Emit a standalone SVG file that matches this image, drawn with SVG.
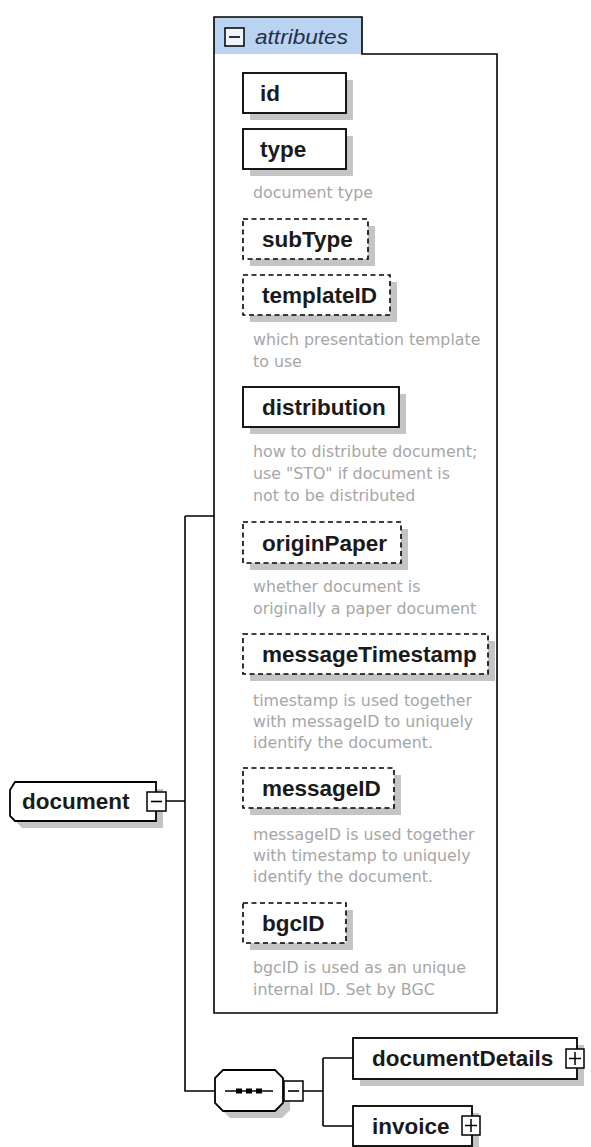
<svg xmlns="http://www.w3.org/2000/svg" width="591" height="1147" viewBox="0 0 591 1147">
<style>
.lbl{font-family:"Liberation Sans",Arial,sans-serif;font-weight:bold;font-size:22.5px;fill:#1a1a1a}
.desc{font-family:"DejaVu Sans","Liberation Sans",sans-serif;font-size:15.8px;fill:#a6a6a6}
.box{fill:#fff;stroke:#000;stroke-width:1.8}
.dash{fill:#fff;stroke:#000;stroke-width:1.6;stroke-dasharray:5 3.5}
.shd{fill:#c4c4c4}
.ln{fill:none;stroke:#000;stroke-width:1.6}
.pm{fill:#fff;stroke:#000;stroke-width:1.5}
</style>
<rect width="591" height="1147" fill="#fff"/>
<g id="connectors">
<path class="ln" d="M166,801 H185 M185,516 H214 M185,516 V1091 H215 M303,1091 H323 M323,1058 V1126 M323,1058 H353 M323,1126 H353"/>
</g>
<g id="attributes">
<path d="M214,17 H362 V54 H214 Z" fill="#bad3f1"/>
<path class="ln" d="M214,1013 V17 H362 V54 H497 V1013 Z" stroke-width="1.8"/>
<rect x="225" y="28" width="19" height="18" fill="#eef4fc" stroke="#000" stroke-width="1.5"/>
<path d="M229,37 H240" stroke="#000" stroke-width="1.6"/>
<text x="255" y="44" font-family="'Liberation Sans',Arial,sans-serif" font-style="italic" font-size="20.5" fill="#24304a" textLength="93" lengthAdjust="spacingAndGlyphs">attributes</text>
</g>
<g id="id">
<rect class="shd" x="250" y="80" width="103" height="40"/>
<rect class="box" x="243" y="73" width="103" height="40"/>
<text class="lbl" x="260" y="101">id</text>
</g>
<g id="type">
<rect class="shd" x="250" y="136" width="103" height="40"/>
<rect class="box" x="243" y="129" width="103" height="40"/>
<text class="lbl" x="260" y="157">type</text>
<text class="desc" x="253" y="198">document type</text>
</g>
<g id="subType">
<rect class="shd" x="250" y="226" width="125" height="40"/>
<rect class="dash" x="243" y="219" width="125" height="40"/>
<text class="lbl" x="262" y="247">subType</text>
</g>
<g id="templateID">
<rect class="shd" x="250" y="282" width="147" height="40"/>
<rect class="dash" x="243" y="275" width="147" height="40"/>
<text class="lbl" x="262" y="303">templateID</text>
<text class="desc" x="253" y="345">which presentation template</text>
<text class="desc" x="253" y="367">to use</text>
</g>
<g id="distribution">
<rect class="shd" x="250" y="394" width="156" height="40"/>
<rect class="box" x="243" y="387" width="156" height="40"/>
<text class="lbl" x="262" y="415">distribution</text>
<text class="desc" x="253" y="457">how to distribute document;</text>
<text class="desc" x="253" y="479">use "STO" if document is</text>
<text class="desc" x="253" y="501">not to be distributed</text>
</g>
<g id="originPaper">
<rect class="shd" x="250" y="529" width="158" height="41"/>
<rect class="dash" x="243" y="522" width="158" height="41"/>
<text class="lbl" x="262" y="551">originPaper</text>
<text class="desc" x="253" y="592">whether document is</text>
<text class="desc" x="253" y="614">originally a paper document</text>
</g>
<g id="messageTimestamp">
<rect class="shd" x="250" y="641" width="245" height="40"/>
<rect class="dash" x="243" y="634" width="245" height="40"/>
<text class="lbl" x="262" y="662">messageTimestamp</text>
<text class="desc" x="253" y="706">timestamp is used together</text>
<text class="desc" x="253" y="727">with messageID to uniquely</text>
<text class="desc" x="253" y="748">identify the document.</text>
</g>
<g id="messageID">
<rect class="shd" x="250" y="775" width="151" height="40"/>
<rect class="dash" x="243" y="768" width="151" height="40"/>
<text class="lbl" x="262" y="796">messageID</text>
<text class="desc" x="253" y="840">messageID is used together</text>
<text class="desc" x="253" y="861">with timestamp to uniquely</text>
<text class="desc" x="253" y="882">identify the document.</text>
</g>
<g id="bgcID">
<rect class="shd" x="250" y="910" width="103" height="40"/>
<rect class="dash" x="243" y="903" width="103" height="40"/>
<text class="lbl" x="262" y="931">bgcID</text>
<text class="desc" x="253" y="973">bgcID is used as an unique</text>
<text class="desc" x="253" y="995">internal ID. Set by BGC</text>
</g>
<g id="document">
<path class="shd" d="M22,789 H163 V828 H22 L17,823 V797 Z"/>
<path class="box" d="M15,782 H156 V821 H15 L10,816 V790 Z"/>
<text class="lbl" x="22" y="809">document</text>
<rect class="pm" x="147" y="792" width="19" height="19"/>
<path d="M151,801.5 H162" stroke="#000" stroke-width="1.6"/>
</g>
<g id="sequence">
<path class="shd" d="M230,1077 H282 L290,1085 V1110 L282,1118 H230 L222,1110 V1085 Z"/>
<path class="box" d="M223,1070 H275 L283,1078 V1103 L275,1111 H223 L215,1103 V1078 Z"/>
<path d="M225,1091 H273" stroke="#000" stroke-width="1.5"/>
<rect x="236" y="1088.5" width="6" height="5" fill="#000"/>
<rect x="246" y="1088.5" width="6" height="5" fill="#000"/>
<rect x="256" y="1088.5" width="6" height="5" fill="#000"/>
<rect class="pm" x="284" y="1081" width="19" height="20"/>
<path d="M288,1091 H299" stroke="#000" stroke-width="1.6"/>
</g>
<g id="documentDetails">
<rect class="shd" x="360" y="1045" width="224" height="41"/>
<rect class="box" x="353" y="1038" width="224" height="41"/>
<text class="lbl" x="372" y="1066">documentDetails</text>
<rect class="pm" x="566" y="1049" width="18" height="19"/>
<path d="M569,1058.5 H581 M575,1052 V1065" stroke="#000" stroke-width="1.5"/>
</g>
<g id="invoice">
<rect class="shd" x="360" y="1113" width="119" height="40"/>
<rect class="box" x="353" y="1106" width="119" height="40"/>
<text class="lbl" x="372" y="1134">invoice</text>
<rect class="pm" x="462" y="1116" width="18" height="19"/>
<path d="M465,1125.5 H477 M471,1119 V1132" stroke="#000" stroke-width="1.5"/>
</g>
</svg>
